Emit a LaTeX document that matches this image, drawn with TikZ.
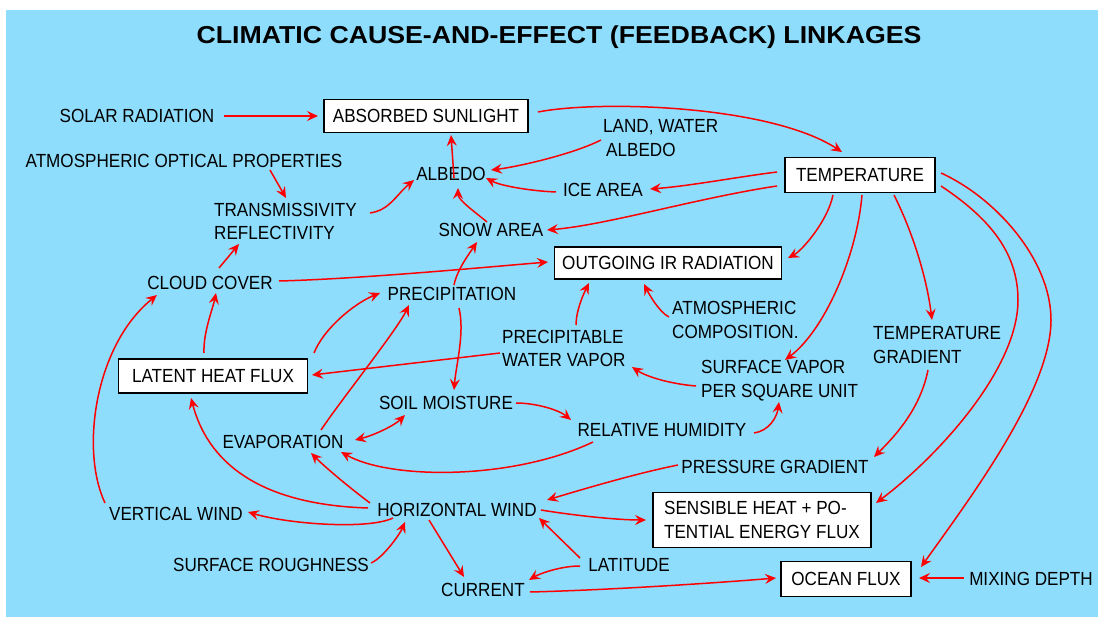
\documentclass[tikz,border=0pt]{standalone}
\usepackage{fontspec}
\setmainfont{Liberation Sans}[FakeStretch=0.9]
\newfontfamily\titlefont{Liberation Sans}[FakeStretch=1.09]
\usetikzlibrary{arrows.meta}
\definecolor{bgblue}{RGB}{143,221,253}
\definecolor{linered}{RGB}{255,0,0}
\begin{document}
\begin{tikzpicture}[x=1pt,y=-1pt,
  lblbase/.style={inner sep=0pt,font=\fontsize{19}{23.5}\selectfont},
  lbl/.style={lblbase,text height=13.6pt,text depth=0pt},
  lblL/.style={lblbase,align=left,anchor=west},
  boxnode/.style={lbl,draw=black,line width=1.8pt,fill=white,align=center},
  boxtwo/.style={lblbase,draw=black,line width=1.8pt,fill=white,align=left},
  arr/.style={draw=linered,line width=1.5pt,-{Stealth[length=11pt,width=10pt,inset=4pt]}},
  darr/.style={arr,{Stealth[length=11pt,width=10pt,inset=4pt]}-{Stealth[length=11pt,width=10pt,inset=4pt]}}]
\useasboundingbox (0,0) rectangle (1104,617);
\fill[white] (0,0) rectangle (1104,617);
\fill[bgblue] (6,10) rectangle (1098,617);

\node[inner sep=0pt,text height=17.5pt,text depth=0pt,font=\titlefont\bfseries\fontsize{24.5}{28}\selectfont] (title) at (559,34.5) {CLIMATIC CAUSE-AND-EFFECT (FEEDBACK) LINKAGES};

\node[lbl] (solar) at (137,116) {SOLAR RADIATION};
\node[boxnode,minimum width=204pt,minimum height=33pt] (absorbed) at (426,116) {ABSORBED SUNLIGHT};
\node[boxnode,minimum width=150pt,minimum height=35pt] (temp) at (860,175) {TEMPERATURE};
\node[lblL] (landw) at (603,138) {LAND, WATER\\\hspace{3pt}ALBEDO};
\node[lbl] (atmopt) at (184,161) {ATMOSPHERIC OPTICAL PROPERTIES};
\node[lbl] (albedo) at (451,174) {ALBEDO};
\node[lbl] (ice) at (603,190) {ICE AREA};
\node[lblL] (trans) at (214,221.5) {TRANSMISSIVITY\\REFLECTIVITY};
\node[lbl] (snow) at (491,230) {SNOW AREA};
\node[boxnode,minimum width=227pt,minimum height=32pt] (ir) at (668,263) {OUTGOING IR RADIATION};
\node[lbl] (cloud) at (210,283) {CLOUD COVER};
\node[lbl] (precip) at (452,294) {PRECIPITATION};
\node[lblL] (atmcomp) at (672,320) {ATMOSPHERIC\\COMPOSITION.};
\node[lblL] (tempgrad) at (873,345) {TEMPERATURE\\GRADIENT};
\node[lblL] (precipw) at (502,348.5) {PRECIPITABLE\\WATER VAPOR};
\node[boxnode,minimum width=189pt,minimum height=34pt] (latent) at (213,376) {LATENT HEAT FLUX};
\node[lblL] (surfvap) at (701,380.5) {SURFACE VAPOR\\PER SQUARE UNIT};
\node[lbl] (soil) at (446,403) {SOIL MOISTURE};
\node[lbl] (relhum) at (662,430) {RELATIVE HUMIDITY};
\node[lbl] (evap) at (283,442) {EVAPORATION};
\node[lbl] (press) at (775,467) {PRESSURE GRADIENT};
\node[lbl] (horiz) at (457,510) {HORIZONTAL WIND};
\node[boxtwo,minimum width=218pt,minimum height=55pt] (sens) at (762,520) {SENSIBLE HEAT + PO-\\TENTIAL ENERGY FLUX};
\node[lbl] (vert) at (176,514) {VERTICAL WIND};
\node[lbl] (rough) at (271,565) {SURFACE ROUGHNESS};
\node[lbl] (lat) at (629,565) {LATITUDE};
\node[lbl] (current) at (483,590) {CURRENT};
\node[boxnode,minimum width=130pt,minimum height=35pt] (ocean) at (846,579) {OCEAN FLUX};
\node[lbl] (mixing) at (1031,579) {MIXING DEPTH};

\draw[arr] ([shift={(87,0)}]solar.center) -- ([shift={(-108,0)}]absorbed.center);
\draw[arr] ([shift={(112,-4)}]absorbed.center) .. controls +(62,-12) and +(-72,-47) .. ([shift={(-18,-23)}]temp.center);
\draw[arr] ([shift={(86,9)}]atmopt.center) -- ([shift={(72,-23.5)}]trans.west);
\draw[arr] ([shift={(156,-8.5)}]trans.west) .. controls +(20,-3) and +(-18,15) .. ([shift={(-37,6)}]albedo.center);
\draw[arr] ([shift={(9,-15)}]cloud.center) -- ([shift={(25,22.5)}]trans.west);
\draw[arr] ([shift={(3,4)}]albedo.center) -- ([shift={(25,19)}]absorbed.center);
\draw[arr] ([shift={(-4,-8)}]snow.center) .. controls +(-12,-10) and +(0,12) .. ([shift={(7,14)}]albedo.center);
\draw[arr] ([shift={(-2,2)}]landw.west) .. controls +(-30,15) and +(25,-3) .. ([shift={(40,-4)}]albedo.center);
\draw[arr] ([shift={(-47,2)}]ice.center) .. controls +(-25,-1) and +(15,8) .. ([shift={(35,4)}]albedo.center);
\draw[arr] ([shift={(-83,-3)}]temp.center) .. controls +(-40,5) and +(40,-3) .. ([shift={(47,-1)}]ice.center);
\draw[arr] ([shift={(-83,11)}]temp.center) .. controls +(-80,12) and +(60,-5) .. ([shift={(56,0)}]snow.center);
\draw[arr] ([shift={(69,-2)}]cloud.center) .. controls +(80,-2) and +(-60,5) .. ([shift={(-120,-1)}]ir.center);
\draw[arr] ([shift={(2,-9)}]precip.center) .. controls +(3,-15) and +(-8,12) .. ([shift={(-14,12)}]snow.center);
\draw[arr] ([shift={(-27,20)}]temp.center) .. controls +(-5,25) and +(15,-8) .. ([shift={(120,-5)}]ir.center);
\draw[arr] ([shift={(-9,-23)}]latent.center) .. controls +(-1,-20) and +(-3,15) .. ([shift={(6,10)}]cloud.center);
\draw[arr] ([shift={(-71,-11)}]vert.center) .. controls +(-25,-53) and +(-62,50) .. ([shift={(-53,12)}]cloud.center);
\draw[arr] ([shift={(101,-23)}]latent.center) .. controls +(10,-25) and +(-25,10) .. ([shift={(-72,-1)}]precip.center);
\draw[arr] ([shift={(38,-12)}]evap.center) .. controls +(20,-30) and +(-12,25) .. ([shift={(-43,11)}]precip.center);
\draw[arr] ([shift={(7,14)}]precip.center) .. controls +(6,25) and +(2,-25) .. ([shift={(8,-13)}]soil.center);
\draw[arr] ([shift={(-2,4.5)}]precipw.west) -- ([shift={(99,-1)}]latent.center);
\draw[darr] ([shift={(72,-2)}]evap.center) .. controls +(20,-5) and +(-10,10) .. ([shift={(-41,12)}]soil.center);
\draw[arr] ([shift={(70,0)}]soil.center) .. controls +(20,0) and +(-12,-10) .. ([shift={(-91,-10)}]relhum.center);
\draw[arr] ([shift={(74,-23.5)}]precipw.west) .. controls +(0,-15) and +(-5,10) .. ([shift={(-79,20)}]ir.center);
\draw[arr] ([shift={(-3,-3)}]atmcomp.west) .. controls +(-10,-5) and +(5,10) .. ([shift={(-24,21)}]ir.center);
\draw[arr] ([shift={(2,20)}]temp.center) .. controls +(-5,60) and +(40,-30) .. ([shift={(84,-20.5)}]surfvap.west);
\draw[arr] ([shift={(-5,5.5)}]surfvap.west) .. controls +(-25,-2) and +(15,10) .. ([shift={(130,18.5)}]precipw.west);
\draw[arr] ([shift={(34,20)}]temp.center) .. controls +(20,40) and +(-5,-40) .. ([shift={(59,-25)}]tempgrad.west);
\draw[arr] ([shift={(92,3)}]relhum.center) .. controls +(15,-2) and +(-2,15) .. ([shift={(78,21.5)}]surfvap.west);
\draw[arr] ([shift={(55,25)}]tempgrad.west) .. controls +(-8,40) and +(20,-20) .. ([shift={(99,-10)}]press.center);
\draw[arr] ([shift={(-69,12)}]relhum.center) .. controls +(-80,38) and +(50,28) .. ([shift={(58,10)}]evap.center);
\draw[arr] ([shift={(81,11)}]temp.center) .. controls +(45,30) and +(0,-50) .. (1018,300) .. controls +(0,70) and +(60,-45) .. ([shift={(114,-17)}]sens.center);
\draw[arr] ([shift={(81,-2)}]temp.center) .. controls +(55,25) and +(0,-60) .. (1051,320) .. controls +(0,70) and +(50,-70) .. ([shift={(75,-12)}]ocean.center);
\draw[arr] ([shift={(-87,-7)}]horiz.center) .. controls +(-20,-15) and +(15,15) .. ([shift={(28,11)}]evap.center);
\draw[arr] ([shift={(-89,-2)}]horiz.center) .. controls +(-98,-3) and +(19,72) .. ([shift={(-22,22)}]latent.center);
\draw[arr] ([shift={(-64,8)}]horiz.center) .. controls +(-25,12) and +(40,12) .. ([shift={(72,-2)}]vert.center);
\draw[arr] ([shift={(100,-2)}]rough.center) .. controls +(12,-5) and +(-5,12) .. ([shift={(-52,12)}]horiz.center);
\draw[arr] ([shift={(-28,10)}]horiz.center) -- ([shift={(-19,-13)}]current.center);
\draw[arr] ([shift={(-49,1)}]lat.center) .. controls +(-20,0) and +(10,-6) .. ([shift={(46,-10)}]current.center);
\draw[arr] ([shift={(-49,-7)}]lat.center) -- ([shift={(82,8)}]horiz.center);
\draw[arr] ([shift={(-97,-2)}]press.center) .. controls +(-40,8) and +(40,-12) .. ([shift={(90,-10)}]horiz.center);
\draw[arr] ([shift={(84,0)}]horiz.center) .. controls +(30,5) and +(-30,0) .. ([shift={(-116,0)}]sens.center);
\draw[arr] ([shift={(47,2)}]current.center) .. controls +(80,-2) and +(-60,5) .. ([shift={(-70,-1)}]ocean.center);
\draw[arr] ([shift={(-67,-1)}]mixing.center) -- ([shift={(73,-1)}]ocean.center);
\end{tikzpicture}
\end{document}
